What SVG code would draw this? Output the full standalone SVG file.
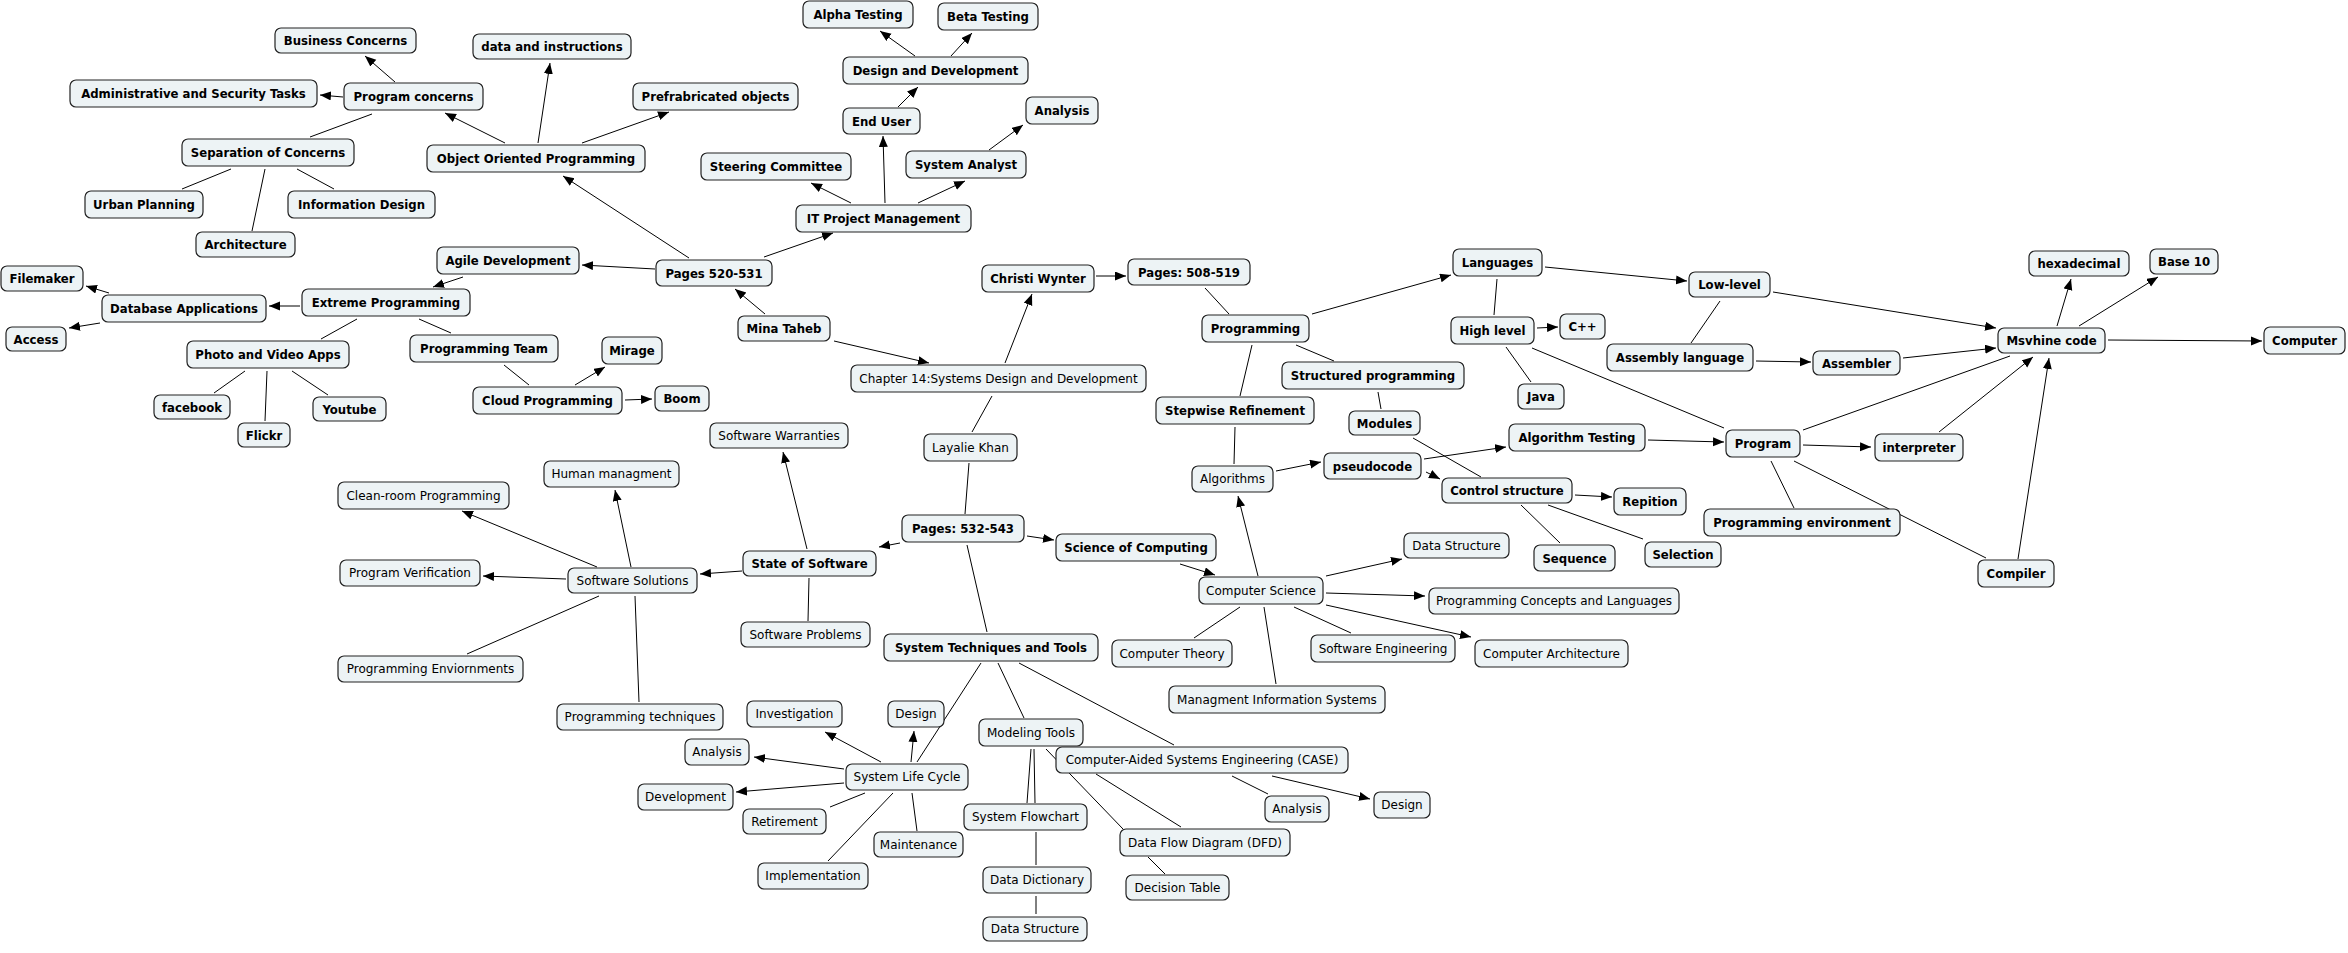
<svg xmlns="http://www.w3.org/2000/svg" width="2348" height="953" viewBox="0 0 2348 953">
<style>
rect{fill:#edf3f5;stroke:#222;stroke-width:1.2}
text{font-family:"DejaVu Sans",Verdana,sans-serif;font-size:12px;fill:#000;text-anchor:middle}
.b text{font-family:"DejaVu Sans Condensed","DejaVu Sans",sans-serif;font-stretch:condensed;font-weight:bold;font-size:13px}
#edges line{stroke:#000;stroke-width:1}
#edges .a{marker-end:url(#ah)}
</style>
<defs>
<marker id="ah" markerUnits="userSpaceOnUse" markerWidth="12" markerHeight="10" refX="11" refY="4.5" orient="auto"><path d="M0,0 L11,4.5 L0,9 z" fill="#000"/></marker>
</defs>
<rect x="0" y="0" width="2348" height="953" style="fill:#fff;stroke:none"/>
<g id="edges">
<line class="a" x1="395" y1="82" x2="365" y2="56"/>
<line class="a" x1="343" y1="97" x2="320" y2="95"/>
<line x1="372" y1="114" x2="310" y2="137"/>
<line class="a" x1="505" y1="143" x2="445" y2="113"/>
<line class="a" x1="538" y1="143" x2="550" y2="63"/>
<line class="a" x1="582" y1="143" x2="669" y2="112"/>
<line x1="231" y1="169" x2="182" y2="189"/>
<line x1="265" y1="169" x2="252" y2="231"/>
<line x1="297" y1="169" x2="334" y2="189"/>
<line class="a" x1="689" y1="258" x2="563" y2="176"/>
<line class="a" x1="655" y1="269" x2="582" y2="265"/>
<line class="a" x1="764" y1="257" x2="833" y2="233"/>
<line class="a" x1="765" y1="314" x2="735" y2="289"/>
<line class="a" x1="834" y1="341" x2="929" y2="363"/>
<line class="a" x1="463" y1="277" x2="433" y2="287"/>
<line class="a" x1="300" y1="306" x2="269" y2="306"/>
<line class="a" x1="109" y1="293" x2="86" y2="286"/>
<line class="a" x1="100" y1="323" x2="69" y2="328"/>
<line x1="357" y1="319" x2="321" y2="339"/>
<line x1="419" y1="319" x2="451" y2="333"/>
<line x1="504" y1="365" x2="529" y2="385"/>
<line class="a" x1="575" y1="385" x2="605" y2="367"/>
<line class="a" x1="625" y1="400" x2="652" y2="399"/>
<line x1="245" y1="371" x2="214" y2="393"/>
<line x1="267" y1="371" x2="265" y2="421"/>
<line x1="292" y1="371" x2="328" y2="395"/>
<line class="a" x1="915" y1="56" x2="880" y2="31"/>
<line class="a" x1="951" y1="56" x2="972" y2="33"/>
<line class="a" x1="898" y1="107" x2="918" y2="87"/>
<line class="a" x1="885" y1="203" x2="883" y2="136"/>
<line class="a" x1="851" y1="203" x2="811" y2="183"/>
<line class="a" x1="918" y1="203" x2="965" y2="181"/>
<line class="a" x1="989" y1="150" x2="1023" y2="125"/>
<line class="a" x1="1005" y1="363" x2="1032" y2="294"/>
<line class="a" x1="1096" y1="276" x2="1126" y2="276"/>
<line x1="1205" y1="288" x2="1229" y2="314"/>
<line class="a" x1="1312" y1="314" x2="1451" y2="275"/>
<line class="a" x1="1545" y1="267" x2="1687" y2="281"/>
<line x1="1497" y1="279" x2="1494" y2="315"/>
<line class="a" x1="1537" y1="328" x2="1558" y2="327"/>
<line x1="1506" y1="347" x2="1531" y2="382"/>
<line x1="1532" y1="348" x2="1724" y2="428"/>
<line x1="1296" y1="345" x2="1334" y2="361"/>
<line x1="1252" y1="345" x2="1240" y2="396"/>
<line x1="992" y1="396" x2="972" y2="432"/>
<line x1="969" y1="463" x2="965" y2="514"/>
<line x1="1378" y1="392" x2="1381" y2="409"/>
<line x1="1413" y1="438" x2="1481" y2="477"/>
<line x1="1235" y1="427" x2="1234" y2="464"/>
<line class="a" x1="1276" y1="471" x2="1321" y2="462"/>
<line class="a" x1="1424" y1="459" x2="1506" y2="447"/>
<line class="a" x1="1426" y1="472" x2="1440" y2="479"/>
<line class="a" x1="1648" y1="440" x2="1724" y2="442"/>
<line class="a" x1="1575" y1="495" x2="1612" y2="497"/>
<line x1="1521" y1="505" x2="1560" y2="543"/>
<line x1="1548" y1="505" x2="1643" y2="539"/>
<line class="a" x1="1258" y1="576" x2="1238" y2="496"/>
<line class="a" x1="1180" y1="564" x2="1215" y2="575"/>
<line class="a" x1="1326" y1="576" x2="1402" y2="559"/>
<line class="a" x1="1326" y1="593" x2="1425" y2="596"/>
<line class="a" x1="1326" y1="605" x2="1471" y2="637"/>
<line x1="1240" y1="607" x2="1194" y2="638"/>
<line x1="1294" y1="607" x2="1351" y2="633"/>
<line x1="1264" y1="607" x2="1276" y2="684"/>
<line x1="1019" y1="663" x2="1174" y2="745"/>
<line x1="1232" y1="776" x2="1268" y2="794"/>
<line class="a" x1="1272" y1="776" x2="1370" y2="799"/>
<line x1="1096" y1="774" x2="1181" y2="827"/>
<line x1="1046" y1="749" x2="1123" y2="829"/>
<line x1="1148" y1="857" x2="1165" y2="874"/>
<line x1="998" y1="663" x2="1024" y2="718"/>
<line x1="981" y1="663" x2="917" y2="762"/>
<line x1="1031" y1="749" x2="1027" y2="803"/>
<line x1="1034" y1="749" x2="1035" y2="803"/>
<line x1="1036" y1="832" x2="1036" y2="865"/>
<line x1="1036" y1="896" x2="1036" y2="914"/>
<line class="a" x1="881" y1="762" x2="825" y2="732"/>
<line class="a" x1="911" y1="762" x2="914" y2="731"/>
<line class="a" x1="844" y1="769" x2="754" y2="757"/>
<line class="a" x1="844" y1="783" x2="736" y2="792"/>
<line x1="865" y1="793" x2="830" y2="807"/>
<line x1="912" y1="793" x2="917" y2="831"/>
<line x1="893" y1="793" x2="828" y2="861"/>
<line class="a" x1="900" y1="543" x2="879" y2="547"/>
<line class="a" x1="1027" y1="536" x2="1054" y2="540"/>
<line x1="967" y1="545" x2="987" y2="632"/>
<line class="a" x1="807" y1="549" x2="783" y2="452"/>
<line class="a" x1="742" y1="571" x2="700" y2="574"/>
<line x1="809" y1="578" x2="808" y2="621"/>
<line class="a" x1="631" y1="567" x2="615" y2="490"/>
<line class="a" x1="597" y1="567" x2="462" y2="511"/>
<line class="a" x1="566" y1="579" x2="483" y2="576"/>
<line x1="599" y1="596" x2="467" y2="654"/>
<line x1="635" y1="596" x2="639" y2="702"/>
<line class="a" x1="1773" y1="292" x2="1996" y2="328"/>
<line x1="1720" y1="301" x2="1691" y2="343"/>
<line class="a" x1="1756" y1="361" x2="1811" y2="362"/>
<line class="a" x1="1903" y1="358" x2="1996" y2="348"/>
<line class="a" x1="2057" y1="326" x2="2071" y2="279"/>
<line class="a" x1="2079" y1="326" x2="2158" y2="277"/>
<line class="a" x1="2108" y1="340" x2="2262" y2="341"/>
<line x1="1803" y1="430" x2="2010" y2="356"/>
<line class="a" x1="1939" y1="432" x2="2033" y2="357"/>
<line class="a" x1="2018" y1="559" x2="2049" y2="358"/>
<line class="a" x1="1803" y1="445" x2="1871" y2="447"/>
<line x1="1771" y1="461" x2="1794" y2="508"/>
<line x1="1794" y1="461" x2="1986" y2="558"/>
</g>
<g class="b">
<g id="n-business-concerns"><rect x="275" y="28" width="141" height="25" rx="6"/><text x="345.5" y="45">Business Concerns</text></g>
<g id="n-data-instructions"><rect x="473" y="34" width="158" height="25" rx="6"/><text x="552" y="51">data and instructions</text></g>
<g id="n-admin-security"><rect x="70" y="80" width="247" height="27" rx="6"/><text x="193.5" y="98">Administrative and Security Tasks</text></g>
<g id="n-program-concerns"><rect x="344" y="83" width="139" height="27" rx="6"/><text x="413.5" y="101">Program concerns</text></g>
<g id="n-prefab"><rect x="633" y="83" width="165" height="27" rx="6"/><text x="715.5" y="101">Prefrabricated objects</text></g>
<g id="n-separation"><rect x="182" y="139" width="172" height="27" rx="6"/><text x="268" y="157">Separation of Concerns</text></g>
<g id="n-oop"><rect x="427" y="145" width="218" height="27" rx="6"/><text x="536" y="163">Object Oriented Programming</text></g>
<g id="n-steering"><rect x="701" y="153" width="150" height="27" rx="6"/><text x="776" y="171">Steering Committee</text></g>
<g id="n-urban"><rect x="85" y="191" width="118" height="27" rx="6"/><text x="144" y="209">Urban Planning</text></g>
<g id="n-info-design"><rect x="288" y="191" width="147" height="27" rx="6"/><text x="361.5" y="209">Information Design</text></g>
<g id="n-architecture"><rect x="196" y="232" width="99" height="25" rx="6"/><text x="245.5" y="249">Architecture</text></g>
<g id="n-agile"><rect x="437" y="247" width="142" height="27" rx="6"/><text x="508" y="265">Agile Development</text></g>
<g id="n-pages520"><rect x="656" y="260" width="116" height="26" rx="6"/><text x="714" y="277.5">Pages 520-531</text></g>
<g id="n-filemaker"><rect x="1" y="266" width="82" height="25" rx="6"/><text x="42" y="283">Filemaker</text></g>
<g id="n-dbapps"><rect x="102" y="295" width="164" height="27" rx="6"/><text x="184" y="313">Database Applications</text></g>
<g id="n-xp"><rect x="302" y="289" width="168" height="27" rx="6"/><text x="386" y="307">Extreme Programming</text></g>
<g id="n-access"><rect x="6" y="327" width="60" height="24" rx="6"/><text x="36" y="343.5">Access</text></g>
<g id="n-mina"><rect x="738" y="316" width="92" height="25" rx="6"/><text x="784" y="333">Mina Taheb</text></g>
<g id="n-photo"><rect x="187" y="341" width="162" height="27" rx="6"/><text x="268" y="359">Photo and Video Apps</text></g>
<g id="n-prog-team"><rect x="410" y="335" width="148" height="27" rx="6"/><text x="484" y="353">Programming Team</text></g>
<g id="n-mirage"><rect x="602" y="337" width="60" height="27" rx="6"/><text x="632" y="355">Mirage</text></g>
<g id="n-cloud"><rect x="473" y="387" width="149" height="27" rx="6"/><text x="547.5" y="405">Cloud Programming</text></g>
<g id="n-boom"><rect x="655" y="386" width="54" height="25" rx="6"/><text x="682" y="403">Boom</text></g>
<g id="n-facebook"><rect x="154" y="395" width="76" height="24" rx="6"/><text x="192" y="411.5">facebook</text></g>
<g id="n-youtube"><rect x="313" y="397" width="73" height="24" rx="6"/><text x="349.5" y="413.5">Youtube</text></g>
<g id="n-flickr"><rect x="238" y="423" width="52" height="24" rx="6"/><text x="264" y="439.5">Flickr</text></g>
<g id="n-alpha"><rect x="803" y="1" width="110" height="27" rx="6"/><text x="858" y="19">Alpha Testing</text></g>
<g id="n-beta"><rect x="938" y="3" width="100" height="27" rx="6"/><text x="988" y="21">Beta Testing</text></g>
<g id="n-design-dev"><rect x="843" y="57" width="185" height="27" rx="6"/><text x="935.5" y="75">Design and Development</text></g>
<g id="n-analysis-top"><rect x="1026" y="97" width="72" height="27" rx="6"/><text x="1062" y="115">Analysis</text></g>
<g id="n-end-user"><rect x="843" y="108" width="77" height="26" rx="6"/><text x="881.5" y="125.5">End User</text></g>
<g id="n-system-analyst"><rect x="906" y="151" width="120" height="27" rx="6"/><text x="966" y="169">System Analyst</text></g>
<g id="n-itpm"><rect x="796" y="205" width="175" height="27" rx="6"/><text x="883.5" y="223">IT Project Management</text></g>
<g id="n-christi"><rect x="982" y="265" width="112" height="27" rx="6"/><text x="1038" y="283">Christi Wynter</text></g>
<g id="n-pages508"><rect x="1128" y="259" width="122" height="26" rx="6"/><text x="1189" y="276.5">Pages: 508-519</text></g>
<g id="n-languages"><rect x="1453" y="249" width="89" height="27" rx="6"/><text x="1497.5" y="267">Languages</text></g>
<g id="n-programming"><rect x="1202" y="315" width="107" height="27" rx="6"/><text x="1255.5" y="333">Programming</text></g>
<g id="n-high-level"><rect x="1451" y="317" width="83" height="27" rx="6"/><text x="1492.5" y="335">High level</text></g>
<g id="n-cpp"><rect x="1560" y="314" width="45" height="25" rx="6"/><text x="1582.5" y="331">C++</text></g>
<g id="n-structured"><rect x="1282" y="362" width="182" height="27" rx="6"/><text x="1373" y="380">Structured programming</text></g>
<g id="n-java"><rect x="1518" y="384" width="46" height="25" rx="6"/><text x="1541" y="401">Java</text></g>
<g id="n-stepwise"><rect x="1156" y="397" width="158" height="27" rx="6"/><text x="1235" y="415">Stepwise Refinement</text></g>
<g id="n-modules"><rect x="1349" y="411" width="71" height="24" rx="6"/><text x="1384.5" y="427.5">Modules</text></g>
<g id="n-hexadecimal"><rect x="2029" y="251" width="100" height="25" rx="6"/><text x="2079" y="268">hexadecimal</text></g>
<g id="n-base10"><rect x="2150" y="249" width="68" height="25" rx="6"/><text x="2184" y="266">Base 10</text></g>
<g id="n-low-level"><rect x="1689" y="272" width="81" height="25" rx="6"/><text x="1729.5" y="289">Low-level</text></g>
<g id="n-msvhine"><rect x="1998" y="328" width="107" height="25" rx="6"/><text x="2051.5" y="345">Msvhine code</text></g>
<g id="n-computer"><rect x="2264" y="327" width="81" height="27" rx="6"/><text x="2304.5" y="345">Computer</text></g>
<g id="n-assembly"><rect x="1607" y="344" width="146" height="27" rx="6"/><text x="1680" y="362">Assembly language</text></g>
<g id="n-assembler"><rect x="1813" y="351" width="87" height="24" rx="6"/><text x="1856.5" y="367.5">Assembler</text></g>
<g id="n-algo-testing"><rect x="1509" y="424" width="136" height="27" rx="6"/><text x="1577" y="442">Algorithm Testing</text></g>
<g id="n-program"><rect x="1726" y="430" width="74" height="27" rx="6"/><text x="1763" y="448">Program</text></g>
<g id="n-interpreter"><rect x="1875" y="434" width="88" height="27" rx="6"/><text x="1919" y="452">interpreter</text></g>
<g id="n-repition"><rect x="1614" y="488" width="72" height="27" rx="6"/><text x="1650" y="506">Repition</text></g>
<g id="n-prog-env"><rect x="1704" y="509" width="196" height="27" rx="6"/><text x="1802" y="527">Programming environment</text></g>
<g id="n-sequence"><rect x="1534" y="545" width="81" height="26" rx="6"/><text x="1574.5" y="562.5">Sequence</text></g>
<g id="n-selection"><rect x="1645" y="542" width="76" height="25" rx="6"/><text x="1683" y="559">Selection</text></g>
<g id="n-compiler"><rect x="1978" y="560" width="76" height="27" rx="6"/><text x="2016" y="578">Compiler</text></g>
<g id="n-pseudocode"><rect x="1324" y="453" width="97" height="26" rx="6"/><text x="1372.5" y="470.5">pseudocode</text></g>
<g id="n-control"><rect x="1442" y="478" width="130" height="25" rx="6"/><text x="1507" y="495">Control structure</text></g>
<g id="n-science"><rect x="1056" y="534" width="160" height="27" rx="6"/><text x="1136" y="552">Science of Computing</text></g>
<g id="n-pages532"><rect x="902" y="515" width="122" height="27" rx="6"/><text x="963" y="533">Pages: 532-543</text></g>
<g id="n-state"><rect x="743" y="551" width="133" height="25" rx="6"/><text x="809.5" y="568">State of Software</text></g>
<g id="n-stt"><rect x="884" y="634" width="214" height="27" rx="6"/><text x="991" y="652">System Techniques and Tools</text></g>
</g>
<g class="n">
<g id="n-chapter14"><rect x="851" y="365" width="295" height="27" rx="6"/><text x="998.5" y="382.5">Chapter 14:Systems Design and Development</text></g>
<g id="n-layalie"><rect x="924" y="434" width="93" height="27" rx="6"/><text x="970.5" y="451.5">Layalie Khan</text></g>
<g id="n-warranties"><rect x="710" y="423" width="138" height="25" rx="6"/><text x="779" y="439.5">Software Warranties</text></g>
<g id="n-algorithms"><rect x="1192" y="466" width="81" height="26" rx="6"/><text x="1232.5" y="483">Algorithms</text></g>
<g id="n-data-structure-1"><rect x="1404" y="533" width="105" height="25" rx="6"/><text x="1456.5" y="549.5">Data Structure</text></g>
<g id="n-cs"><rect x="1199" y="577" width="124" height="27" rx="6"/><text x="1261" y="594.5">Computer Science</text></g>
<g id="n-pcl"><rect x="1429" y="588" width="250" height="26" rx="6"/><text x="1554" y="605">Programming Concepts and Languages</text></g>
<g id="n-theory"><rect x="1112" y="640" width="120" height="27" rx="6"/><text x="1172" y="657.5">Computer Theory</text></g>
<g id="n-softeng"><rect x="1311" y="635" width="144" height="27" rx="6"/><text x="1383" y="652.5">Software Engineering</text></g>
<g id="n-comparch"><rect x="1475" y="640" width="153" height="27" rx="6"/><text x="1551.5" y="657.5">Computer Architecture</text></g>
<g id="n-mis"><rect x="1169" y="686" width="216" height="27" rx="6"/><text x="1277" y="703.5">Managment Information Systems</text></g>
<g id="n-case"><rect x="1056" y="747" width="292" height="26" rx="6"/><text x="1202" y="764">Computer-Aided Systems Engineering (CASE)</text></g>
<g id="n-analysis-case"><rect x="1265" y="796" width="64" height="26" rx="6"/><text x="1297" y="813">Analysis</text></g>
<g id="n-design-case"><rect x="1374" y="792" width="56" height="26" rx="6"/><text x="1402" y="809">Design</text></g>
<g id="n-dfd"><rect x="1120" y="829" width="170" height="27" rx="6"/><text x="1205" y="846.5">Data Flow Diagram (DFD)</text></g>
<g id="n-decision"><rect x="1126" y="875" width="103" height="25" rx="6"/><text x="1177.5" y="891.5">Decision Table</text></g>
<g id="n-human"><rect x="544" y="461" width="135" height="26" rx="6"/><text x="611.5" y="478">Human managment</text></g>
<g id="n-cleanroom"><rect x="338" y="482" width="171" height="27" rx="6"/><text x="423.5" y="499.5">Clean-room Programming</text></g>
<g id="n-verification"><rect x="340" y="560" width="140" height="26" rx="6"/><text x="410" y="577">Program Verification</text></g>
<g id="n-solutions"><rect x="568" y="568" width="129" height="25" rx="6"/><text x="632.5" y="584.5">Software Solutions</text></g>
<g id="n-problems"><rect x="741" y="622" width="129" height="25" rx="6"/><text x="805.5" y="638.5">Software Problems</text></g>
<g id="n-prog-envs"><rect x="338" y="656" width="185" height="26" rx="6"/><text x="430.5" y="673">Programming Enviornments</text></g>
<g id="n-prog-tech"><rect x="557" y="704" width="166" height="26" rx="6"/><text x="640" y="721">Programming techniques</text></g>
<g id="n-investigation"><rect x="747" y="701" width="95" height="26" rx="6"/><text x="794.5" y="718">Investigation</text></g>
<g id="n-design-slc"><rect x="888" y="701" width="56" height="26" rx="6"/><text x="916" y="718">Design</text></g>
<g id="n-modeling"><rect x="979" y="719" width="104" height="27" rx="6"/><text x="1031" y="736.5">Modeling Tools</text></g>
<g id="n-analysis-slc"><rect x="685" y="739" width="64" height="26" rx="6"/><text x="717" y="756">Analysis</text></g>
<g id="n-slc"><rect x="846" y="764" width="122" height="26" rx="6"/><text x="907" y="781">System Life Cycle</text></g>
<g id="n-development"><rect x="638" y="784" width="95" height="26" rx="6"/><text x="685.5" y="801">Development</text></g>
<g id="n-retirement"><rect x="743" y="809" width="83" height="25" rx="6"/><text x="784.5" y="825.5">Retirement</text></g>
<g id="n-flowchart"><rect x="964" y="804" width="123" height="26" rx="6"/><text x="1025.5" y="821">System Flowchart</text></g>
<g id="n-maintenance"><rect x="874" y="832" width="89" height="25" rx="6"/><text x="918.5" y="848.5">Maintenance</text></g>
<g id="n-implementation"><rect x="758" y="863" width="110" height="26" rx="6"/><text x="813" y="880">Implementation</text></g>
<g id="n-data-dictionary"><rect x="983" y="867" width="108" height="26" rx="6"/><text x="1037" y="884">Data Dictionary</text></g>
<g id="n-data-structure-2"><rect x="983" y="917" width="104" height="24" rx="6"/><text x="1035" y="933">Data Structure</text></g>
</g>
</svg>
